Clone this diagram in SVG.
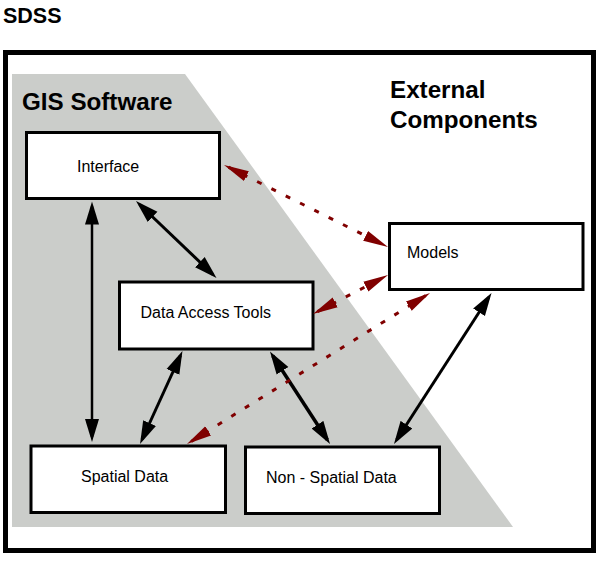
<svg xmlns="http://www.w3.org/2000/svg" width="604" height="563" viewBox="0 0 604 563">
<style>
.title{font-family:"Liberation Sans",Arial,sans-serif;font-weight:bold;fill:#000}
.lbl{font-family:"Liberation Sans",Arial,sans-serif;font-size:16px;fill:#000}
.box{fill:#fff;stroke:#000;stroke-width:3}
.solid{fill:none;stroke:#000;stroke-width:3}
.dot{fill:none;stroke:#800000;stroke-width:3;stroke-dasharray:5 11}
</style>
<defs>
<marker id="ab" markerUnits="userSpaceOnUse" markerWidth="24" markerHeight="16" viewBox="0 0 24 16" refX="18" refY="8" orient="auto-start-reverse">
<path d="M0,1 L23,8 L0,15 Z" fill="#000"/>
</marker>
<marker id="ar" markerUnits="userSpaceOnUse" markerWidth="26" markerHeight="14" viewBox="0 0 26 14" refX="20" refY="7" orient="auto-start-reverse">
<path d="M0,1.5 L25,7 L0,12.5 Z" fill="#800000"/>
</marker>
</defs>
<rect width="604" height="563" fill="#fff"/>
<text class="title" x="3" y="23" font-size="21.5">SDSS</text>
<g id="sdss-frame">
<rect x="5.5" y="52.5" width="588" height="498" fill="#fff" stroke="#000" stroke-width="5"/>
</g>
<g id="gis-software">
<polygon points="12,74 185,74 513,527 12,527" fill="#cbcdca"/>
<text class="title" x="22" y="110" font-size="24.2">GIS Software</text>
</g>
<g id="external-components">
<text class="title" x="390" y="98" font-size="24.2">External</text>
<text class="title" x="390" y="128" font-size="24.2">Components</text>
</g>
<g id="interface">
<rect class="box" x="26.5" y="132.5" width="193" height="66"/>
<text class="lbl" x="77" y="172">Interface</text>
</g>
<g id="models">
<rect class="box" x="389.5" y="223.5" width="193.5" height="66"/>
<text class="lbl" x="407" y="258">Models</text>
</g>
<g id="data-access-tools">
<rect class="box" x="119.5" y="282" width="193.5" height="67"/>
<text class="lbl" x="140.5" y="318">Data Access Tools</text>
</g>
<g id="spatial-data">
<rect class="box" x="31" y="446" width="194.5" height="66.5"/>
<text class="lbl" x="81" y="482">Spatial Data</text>
</g>
<g id="non-spatial-data">
<rect class="box" x="245.5" y="447" width="194" height="66.5"/>
<text class="lbl" x="266" y="483">Non - Spatial Data</text>
</g>
<g id="connectors">
<path class="solid" style="stroke-width:2.5" d="M92,206.5 L92,437" marker-start="url(#ab)" marker-end="url(#ab)"/>
<path class="solid" d="M139.6,204.5 L212.9,274.5" marker-start="url(#ab)" marker-end="url(#ab)"/>
<path class="solid" d="M180.4,355.5 L142.1,439.5" marker-start="url(#ab)" marker-end="url(#ab)"/>
<path class="solid" style="stroke-width:3.5" d="M272.7,355.7 L327.3,439.8" marker-start="url(#ab)" marker-end="url(#ab)"/>
<path class="solid" d="M488.8,297.2 L396.7,439.8" marker-start="url(#ab)" marker-end="url(#ab)"/>
<path class="dot" d="M228.5,167.2 L383.5,244.8" marker-start="url(#ar)" marker-end="url(#ar)"/>
<path class="dot" d="M317.4,311.7 L383.6,277.3" marker-start="url(#ar)" marker-end="url(#ar)"/>
<path class="dot" d="M425.8,295.6 L191.2,441.4" marker-start="url(#ar)" marker-end="url(#ar)"/>
</g>
</svg>
